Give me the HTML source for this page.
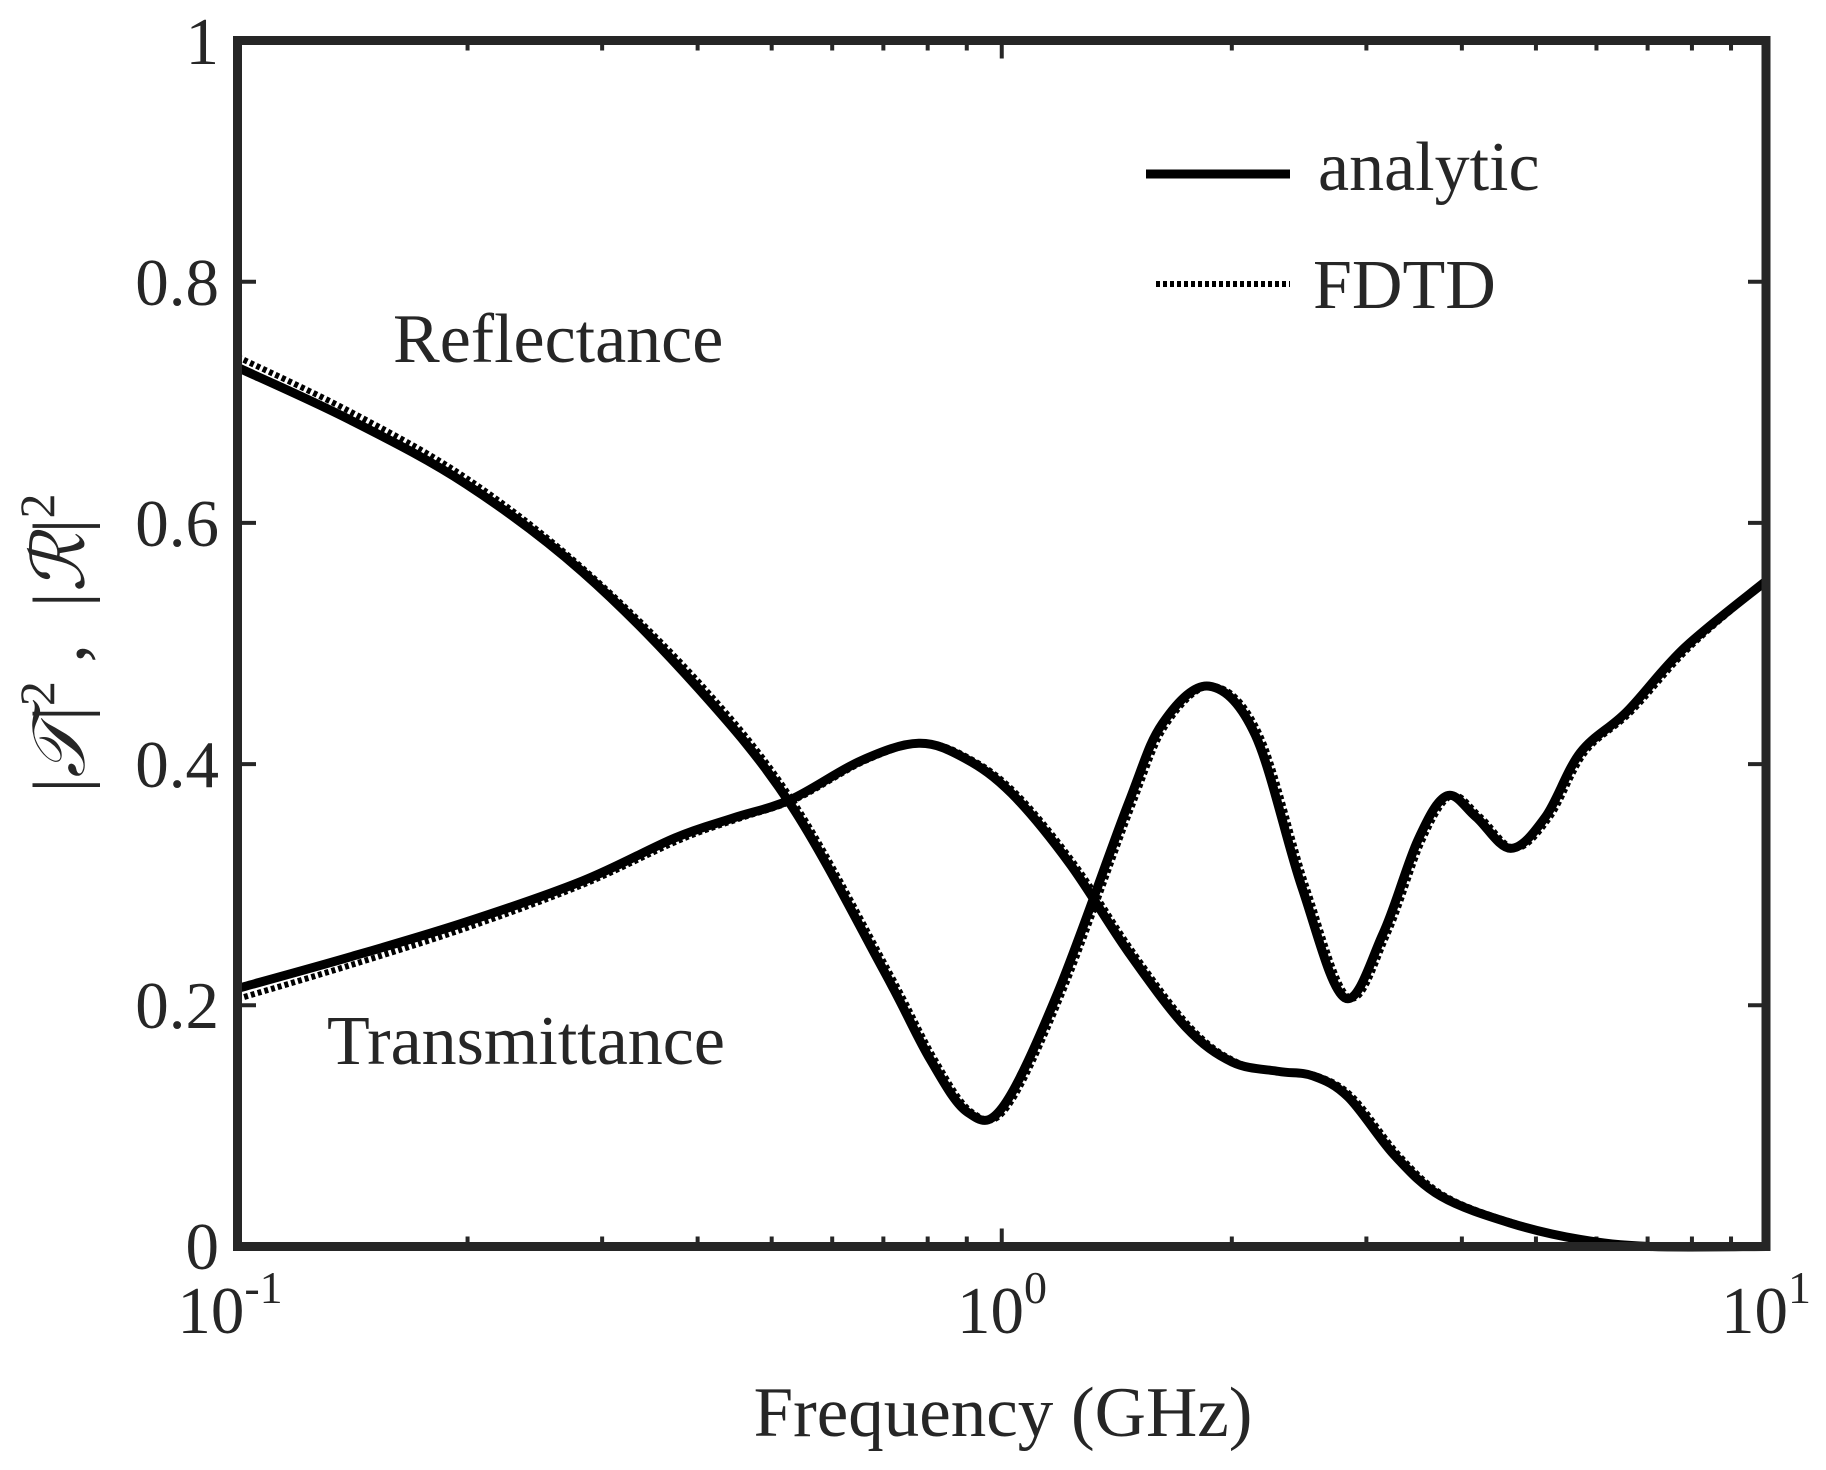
<!DOCTYPE html>
<html><head><meta charset="utf-8"><style>
html,body{margin:0;padding:0;background:#fff;}
svg{display:block;}
text{font-family:"Liberation Serif","DejaVu Serif",serif;fill:#262626;}
</style></head><body>
<svg id="s" width="1826" height="1470" viewBox="0 0 1826 1470" xmlns="http://www.w3.org/2000/svg">
<g id="ticks" stroke="#262626" stroke-width="4"></g>
<path id="Rf" fill="none" stroke="#000" stroke-width="6" stroke-dasharray="4,3"/>
<path id="Tf" fill="none" stroke="#000" stroke-width="6" stroke-dasharray="4,3"/>
<path id="Ra" fill="none" stroke="#000" stroke-width="9" stroke-linejoin="round"/>
<path id="Ta" fill="none" stroke="#000" stroke-width="9" stroke-linejoin="round"/>
<rect x="237.5" y="40.5" width="1528.5" height="1206" fill="none" stroke="#262626" stroke-width="9"/>
<g font-size="67" text-anchor="end">
<text x="219" y="64">1</text>
<text x="219" y="305">0.8</text>
<text x="219" y="546">0.6</text>
<text x="219" y="787">0.4</text>
<text x="219" y="1028">0.2</text>
<text x="219" y="1269">0</text>
</g>
<g font-size="67" text-anchor="middle">
<text x="230" y="1333">10<tspan font-size="46" dy="-30">-1</tspan></text>
<text x="1002" y="1333">10<tspan font-size="46" dy="-30">0</tspan></text>
<text x="1766" y="1333">10<tspan font-size="46" dy="-30">1</tspan></text>
<text x="1003" y="1436" font-size="71">Frequency (GHz)</text>
</g>
<text font-size="74" transform="translate(84,643) rotate(-90)" text-anchor="middle" xml:space="preserve">|<tspan font-style="italic">𝒯</tspan>|<tspan font-size="50" dy="-30">2</tspan><tspan dy="30"> ,  |</tspan><tspan font-style="italic">ℛ</tspan>|<tspan font-size="50" dy="-30">2</tspan></text>
<text x="393" y="362" font-size="70">Reflectance</text>
<text x="327" y="1064" font-size="70">Transmittance</text>
<line x1="1146" y1="174" x2="1290" y2="174" stroke="#000" stroke-width="9"/>
<text x="1318" y="190" font-size="70">analytic</text>
<line x1="1156" y1="284" x2="1290" y2="284" stroke="#000" stroke-width="6" stroke-dasharray="4,3"/>
<text x="1313" y="308" font-size="70">FDTD</text>
</svg>
<script>
function X(xd){return 237.5+(xd-203)*1.1606;}
function Y(yd){return 1246.5-(1068-yd)*1.1675;}
var R=[[203,315],[300,360],[400,415],[500,490],[600,590],[680,690],[760,832],[800,908],[832,953],[862,949],[910,850],[970,690],[1000,620],[1040,588],[1080,630],[1120,760],[1157,855],[1190,800],[1220,720],[1245,682],[1270,700],[1300,727],[1330,700],[1360,645],[1400,610],[1450,555],[1520,498]];
var T=[[203,847],[300,820],[400,790],[500,755],[580,718],[630,701],[680,685],[740,652],[790,637],[830,650],[870,680],[920,740],[970,815],[1020,880],[1060,910],[1100,918],[1130,922],[1160,940],[1200,990],[1240,1025],[1300,1048],[1360,1062],[1420,1068],[1520,1068]];
function path(p){
 var q=p.map(function(a){return [X(a[0]),Y(a[1])];});
 var d="M"+q[0][0]+","+q[0][1];
 for(var i=0;i<q.length-1;i++){
  var p0=q[i-1]||q[i],p1=q[i],p2=q[i+1],p3=q[i+2]||q[i+1];
  var c1=[p1[0]+(p2[0]-p0[0])/6,p1[1]+(p2[1]-p0[1])/6];
  var c2=[p2[0]-(p3[0]-p1[0])/6,p2[1]-(p3[1]-p1[1])/6];
  d+="C"+c1+" "+c2+" "+p2;
 }
 return d;
}
function off(p,kind){
 return p.map(function(a){
  var x=a[0],y=a[1],w=Math.max(0,(680-x)/477);
  var dy=kind=="R"?-9*w:9*w;
  var dx=(x>560&&x<1520)?4:0;
  return [x+dx,y+dy];
 });
}
document.getElementById("Ra").setAttribute("d",path(R));
document.getElementById("Ta").setAttribute("d",path(T));
document.getElementById("Rf").setAttribute("d",path(off(R,"R")));
document.getElementById("Tf").setAttribute("d",path(off(T,"T")));
var g=document.getElementById("ticks"),s="";
for(var v=0;v<=1.001;v+=0.2){var y=1246.5-v*1206;s+='<line x1="237.5" y1="'+y+'" x2="256" y2="'+y+'"/><line x1="1748" y1="'+y+'" x2="1766" y2="'+y+'"/>';}
for(var dec=-1;dec<1;dec++)for(var k=1;k<=9;k++){var lf=dec+Math.log10(k);var x=237.5+(lf+1)/2*1528.5;if(k==1&&dec==-1)continue;var L=(k==1)?18:10;
s+='<line x1="'+x+'" y1="1246.5" x2="'+x+'" y2="'+(1246.5-L)+'"/><line x1="'+x+'" y1="40.5" x2="'+x+'" y2="'+(40.5+L)+'"/>';}
g.innerHTML=s;
</script>
</body></html>
